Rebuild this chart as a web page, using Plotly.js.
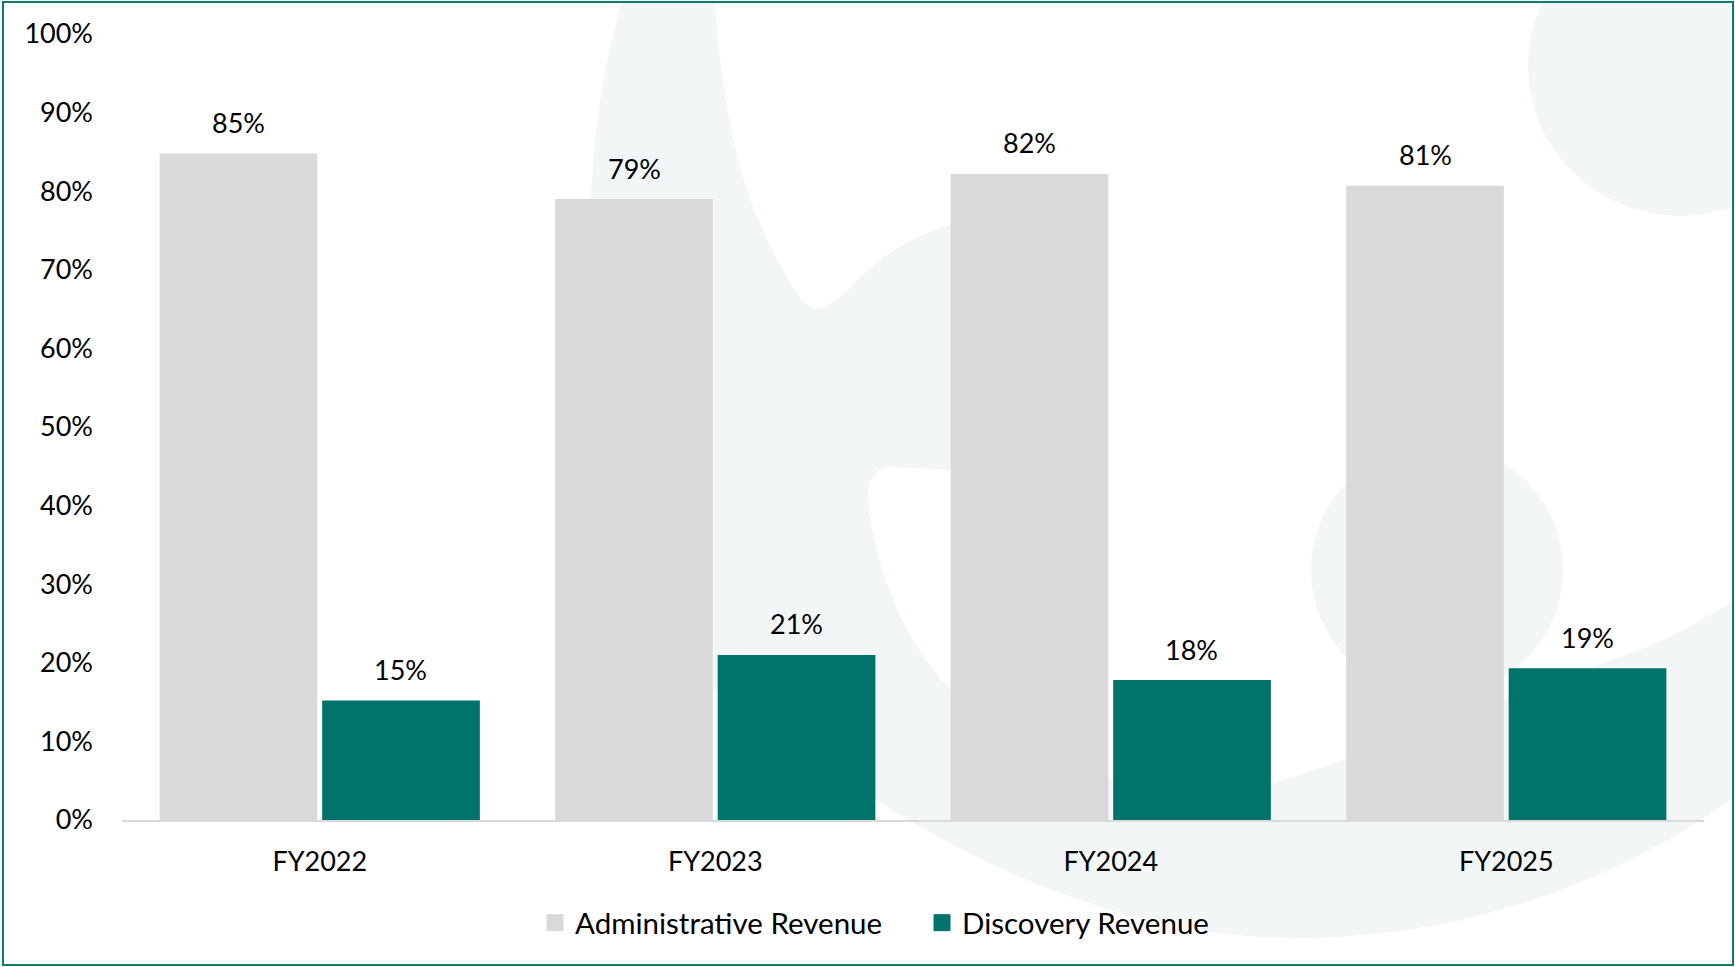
<!DOCTYPE html>
<html>
<head>
<meta charset="utf-8">
<script src="https://cdn.plot.ly/plotly-3.0.1.min.js"></script>
<style>
  html, body { margin: 0; padding: 0; background: #ffffff; }
  #chart { width: 1735px; height: 967px; }
</style>
</head>
<body>
<div id="chart"></div>
<script>
// ---- data ----
const categories = ['FY2022', 'FY2023', 'FY2024', 'FY2025'];
const adminRevenue = [0.848, 0.790, 0.822, 0.807];
const discoveryRevenue = [0.152, 0.210, 0.178, 0.193];
const seriesNames = ['Administrative Revenue', 'Discovery Revenue'];
const yTickVals = [0, 0.1, 0.2, 0.3, 0.4, 0.5, 0.6, 0.7, 0.8, 0.9, 1.0];

// ---- style ----
const GRAY = '#D9D9D9';
const TEAL = '#00736A';
const WM = '#F3F6F6';
const FONT = 'Lato, "Open Sans", sans-serif';
const FS = 27;
const LEG_FS = 29.5;

// plot area in pixels (for decorative background only)
const W = 1735, H = 967;
const M = { l: 122, r: 31, t: 34, b: 147 };
const PL = M.l, PR = W - M.r, PT = M.t, PB = H - M.b;
function px(x, y) {
  return ((x - PL) / (PR - PL)).toFixed(4) + ',' + ((PB - y) / (PB - PT)).toFixed(4);
}
function pxX(x) { return (x - PL) / (PR - PL); }
function pxY(y) { return (PB - y) / (PB - PT); }

// faint watermark (decorative)
const bodyPath =
  'M' + px(622, 0) + ' L' + px(715, 0) +
  ' C' + px(722, 110) + ' ' + px(740, 200) + ' ' + px(790, 283) +
  ' C' + px(800, 300) + ' ' + px(810, 310) + ' ' + px(817, 308) +
  ' C' + px(830, 306) + ' ' + px(840, 298) + ' ' + px(850, 288) +
  ' C' + px(880, 255) + ' ' + px(920, 225) + ' ' + px(1000, 215) +
  ' L' + px(1000, 470) + ' L' + px(950, 470) + ' L' + px(893, 467) +
  ' C' + px(875, 467) + ' ' + px(866, 480) + ' ' + px(868, 505) +
  ' C' + px(875, 560) + ' ' + px(900, 640) + ' ' + px(950, 688) +
  ' C' + px(1050, 790) + ' ' + px(1180, 800) + ' ' + px(1271, 783) +
  ' C' + px(1300, 775) + ' ' + px(1330, 765) + ' ' + px(1347, 758) +
  ' L' + px(1450, 720) +
  ' C' + px(1530, 690) + ' ' + px(1600, 665) + ' ' + px(1627, 654) +
  ' C' + px(1670, 640) + ' ' + px(1710, 615) + ' ' + px(1735, 600) +
  ' L' + px(1735, 796) +
  ' C' + px(1650, 860) + ' ' + px(1500, 935) + ' ' + px(1306, 938) +
  ' C' + px(1150, 940) + ' ' + px(1000, 880) + ' ' + px(876, 800) +
  ' C' + px(800, 760) + ' ' + px(740, 720) + ' ' + px(716, 690) +
  ' C' + px(650, 600) + ' ' + px(592, 450) + ' ' + px(590, 260) +
  ' C' + px(589, 160) + ' ' + px(600, 80) + ' ' + px(622, 0) + ' Z';

const shapes = [
  { type: 'path', xref: 'paper', yref: 'paper', path: bodyPath, fillcolor: WM, line: { width: 0 }, layer: 'below' },
  { type: 'circle', xref: 'paper', yref: 'paper', x0: pxX(1311), x1: pxX(1563), y0: pxY(696), y1: pxY(444), fillcolor: WM, line: { width: 0 }, layer: 'below' },
  { type: 'circle', xref: 'paper', yref: 'paper', x0: pxX(1528), x1: pxX(1834), y0: pxY(216), y1: pxY(-84), fillcolor: WM, line: { width: 0 }, layer: 'below' },
  // outer frame
  { type: 'rect', xref: 'paper', yref: 'paper', x0: pxX(3), x1: pxX(1733), y0: pxY(965), y1: pxY(2), fillcolor: 'rgba(0,0,0,0)', line: { color: '#0E7B6F', width: 2 }, layer: 'above' }
];

// value labels above bars
const SLOT = 81;
const annotations = [];
categories.forEach((c, i) => {
  annotations.push({ x: c, y: adminRevenue[i], xref: 'x', yref: 'y', text: Math.round(adminRevenue[i] * 100) + '%',
    showarrow: false, xshift: -SLOT, yshift: 31, yanchor: 'middle', font: { family: FONT, size: FS, color: '#000' } });
  annotations.push({ x: c, y: discoveryRevenue[i], xref: 'x', yref: 'y', text: Math.round(discoveryRevenue[i] * 100) + '%',
    showarrow: false, xshift: SLOT, yshift: 31, yanchor: 'middle', font: { family: FONT, size: FS, color: '#000' } });
});

const traces = [
  { type: 'bar', name: seriesNames[0], x: categories, y: adminRevenue, marker: { color: GRAY }, hoverinfo: 'x+y', showlegend: false },
  { type: 'bar', name: seriesNames[1], x: categories, y: discoveryRevenue, marker: { color: TEAL }, hoverinfo: 'x+y', showlegend: false },
  // legend entries (square swatches)
  { type: 'scatter', mode: 'markers', name: seriesNames[0], x: [null], y: [null],
    marker: { symbol: 'square', size: 16, color: GRAY, line: { color: GRAY, width: 1 } }, hoverinfo: 'skip' },
  { type: 'scatter', mode: 'markers', name: seriesNames[1], x: [null], y: [null],
    marker: { symbol: 'square', size: 16, color: TEAL, line: { color: TEAL, width: 1 } }, hoverinfo: 'skip' }
];

const layout = {
  width: W, height: H,
  margin: M,
  paper_bgcolor: '#ffffff',
  plot_bgcolor: 'rgba(0,0,0,0)',
  barmode: 'group',
  bargap: 0.178,
  bargroupgap: 0.03,
  font: { family: FONT, size: FS, color: '#000' },
  xaxis: {
    type: 'category',
    categoryarray: categories,
    showline: true, linecolor: GRAY, linewidth: 2,
    showgrid: false, zeroline: false, ticks: '',
    ticklabelstandoff: 17,
    tickfont: { family: FONT, size: FS, color: '#000' }
  },
  yaxis: {
    range: [0, 1],
    tickvals: yTickVals,
    tickformat: '.0%',
    showgrid: false, zeroline: false, showline: false, ticks: '',
    ticklabelstandoff: 28,
    tickfont: { family: FONT, size: FS, color: '#000' }
  },
  legend: {
    orientation: 'h', x: pxX(535), xanchor: 'left', y: pxY(923), yanchor: 'middle',
    entrywidth: 342, entrywidthmode: 'pixels',
    font: { family: FONT, size: LEG_FS, color: '#000' },
    bgcolor: 'rgba(0,0,0,0)'
  },
  shapes: shapes,
  annotations: annotations,
  showlegend: true
};

Plotly.newPlot('chart', traces, layout, { displayModeBar: false, responsive: false });
</script>
</body>
</html>
